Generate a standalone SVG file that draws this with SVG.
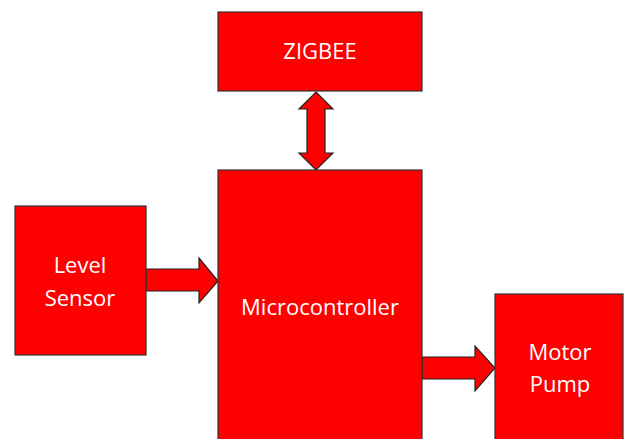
<svg xmlns="http://www.w3.org/2000/svg" width="627" height="439" viewBox="0 0 627 439">
  <style>
    .box { fill: #ff0000; stroke: #333333; stroke-width: 1.2; }
    .arrow { fill: #ff0000; stroke: #222222; stroke-width: 1.2; stroke-linejoin: miter; }
    .label { fill: #ffffff; font-family: "Open Sans", "Noto Sans", "Liberation Sans", sans-serif; font-size: 22px; text-anchor: middle; }
  </style>
  <rect width="627" height="439" fill="#ffffff"/>
  <g id="connectors">
    <!-- ZIGBEE <-> Microcontroller -->
    <path class="arrow" d="M316,92 L333,109 L325,109 L325,153 L333,153 L316,170 L299,153 L307,153 L307,109 L299,109 Z"/>
    <!-- Level Sensor -> Microcontroller -->
    <path class="arrow" d="M146,269 L199,269 L199,258 L218,281 L199,303 L199,291 L146,291 Z"/>
    <!-- Microcontroller -> Motor Pump -->
    <path class="arrow" d="M422,357 L475,357 L475,346 L495,368 L475,391 L475,379 L422,379 Z"/>
  </g>
  <g id="zigbee">
    <rect class="box" x="218" y="12" width="204" height="79"/>
    <text class="label" x="320" y="59">ZIGBEE</text>
  </g>
  <g id="microcontroller">
    <rect class="box" x="218" y="170" width="204" height="275"/>
    <text class="label" x="320" y="315">Microcontroller</text>
  </g>
  <g id="level-sensor">
    <rect class="box" x="15" y="206" width="131" height="149"/>
    <text class="label" x="80" y="273">Level</text>
    <text class="label" x="80" y="306">Sensor</text>
  </g>
  <g id="motor-pump">
    <rect class="box" x="495" y="294" width="128" height="150"/>
    <text class="label" x="560" y="360">Motor</text>
    <text class="label" x="560" y="392">Pump</text>
  </g>
</svg>
